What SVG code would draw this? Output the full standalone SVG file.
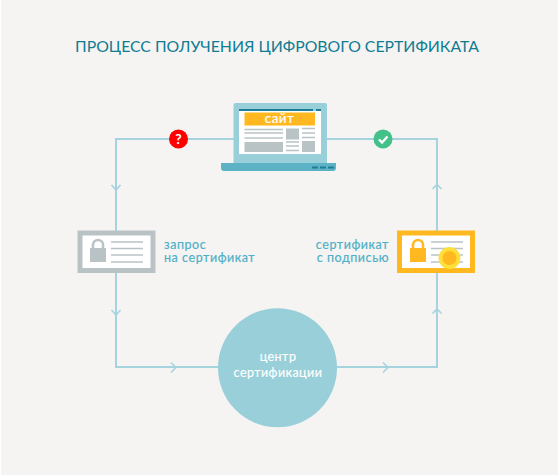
<svg xmlns="http://www.w3.org/2000/svg" width="558" height="476" viewBox="0 0 558 476">
<style>
.ln{fill:none;stroke:#a6d4de;stroke-width:2}
.ar{fill:none;stroke:#a6d4de;stroke-width:1.6}
.g{fill:none;stroke:#b9c3c5;stroke-width:1.5}
.t{font-family:"Lato","Open Sans",sans-serif}
.lb{font-size:12.5px;fill:#4fb0c6;letter-spacing:.55px;stroke:#4fb0c6;stroke-width:.2px}
.w{font-size:12.5px;fill:#fff;text-anchor:middle;letter-spacing:.45px;stroke:#fff;stroke-width:.15px}
</style>
<rect width="558" height="476" fill="#fff"/>
<rect x="1" y="0" width="557" height="475" fill="#f6f4f3"/>
<text class="t" x="277" y="52" font-size="15.8" fill="#0f7c92" text-anchor="middle">ПРОЦЕСС ПОЛУЧЕНИЯ ЦИФРОВОГО СЕРТИФИКАТА</text>
<g id="connectors">
<path class="ln" d="M234 139H116V367H219M337 367H437V139H326"/>
<path class="ar" d="M111.500 185L116 190L120.500 185M111.500 310L116 315L120.500 310M171 362.500L176 367.500L171 372.500M383 362.500L388 367.500L383 372.500M432.500 313.500L437 309L441.500 313.500M432.500 189L437 184.500L441.500 189"/>
</g>
<g id="badge-question"><circle cx="178.500" cy="139" r="9.500" fill="#f00"/><text class="t" x="178.500" y="144" font-size="14" font-weight="700" fill="#fff" text-anchor="middle">?</text></g>
<g id="badge-check"><circle cx="383" cy="139" r="9.500" fill="#44c08a"/><path d="M379 139.500L382 142.500L387.500 136.500" fill="none" stroke="#fff" stroke-width="2.400"/></g>
<g id="laptop">
<path d="M233.500 105a2 2 0 0 1 2-2h89.500a2 2 0 0 1 2 2V163H233.500Z" fill="#98cfd9"/>
<path d="M221 163H336V168a3 3 0 0 1-3 3H224a3 3 0 0 1-3-3Z" fill="#5db2c5"/>
<path d="M312 167.500h6M320 167.500h6M328 167.500h6" stroke="#1d7f95" stroke-width="2"/>
<rect x="239" y="109" width="82" height="45" fill="#fff"/>
<rect x="239" y="109" width="82" height="2" fill="#1d7f95"/>
<rect x="313" y="109" width="3" height="2" fill="#98cfd9"/>
<rect x="244.500" y="112.500" width="70.500" height="13" fill="#ffb81f"/>
<text class="t" x="279.500" y="123" font-size="13.500" fill="#fff" stroke="#fff" stroke-width=".2" text-anchor="middle" letter-spacing=".4">сайт</text>
<path class="g" d="M244.500 129.500H283M244.500 133H283M244.500 138H283M302 128.500H315M302 133H315M302 137.500H315M286 142H299M286 146H299M286 150.500H299"/>
<rect x="244.500" y="142" width="38.500" height="10" fill="#b9c3c5"/>
<rect x="286" y="128.500" width="13" height="11" fill="#b9c3c5"/>
<rect x="302" y="141" width="13" height="11" fill="#b9c3c5"/>
</g>
<g id="cert-request">
<rect x="80" y="233" width="73" height="37.500" fill="#fff" stroke="#b9c3c5" stroke-width="5"/>
<rect x="90" y="248" width="16" height="14" fill="#b9c3c5"/>
<path d="M93 249V245a5 5 0 0 1 10 0V249" fill="none" stroke="#b9c3c5" stroke-width="2.500"/>
<path class="g" d="M111 242H143M111 248.500H143M111 255H143M111 262H143"/>
<text class="t lb" y="249"><tspan x="164">запрос</tspan><tspan x="164" dy="13">на сертификат</tspan></text>
</g>
<g id="cert-signed">
<rect x="399.500" y="233" width="73" height="37.500" fill="#fff" stroke="#ffb81f" stroke-width="5"/>
<rect x="410" y="248" width="16" height="14" fill="#ffb81f"/>
<path d="M413 249V245a5 5 0 0 1 10 0V249" fill="none" stroke="#ffb81f" stroke-width="2.500"/>
<path class="g" d="M431 242H463M431 248.500H463M431 255H463M431 262H463"/>
<circle cx="449.500" cy="258" r="9" fill="#ffb81f" stroke="#ffdf3a" stroke-width="4"/>
<text class="t lb" y="249" text-anchor="end"><tspan x="389">сертификат</tspan><tspan x="389" dy="13">с подписью</tspan></text>
</g>
<g id="ca">
<circle cx="277.500" cy="367.700" r="59.500" fill="#98cfd9"/>
<text class="t w" x="278" y="361">центр</text>
<text class="t w" x="278" y="377">сертификации</text>
</g>
</svg>
